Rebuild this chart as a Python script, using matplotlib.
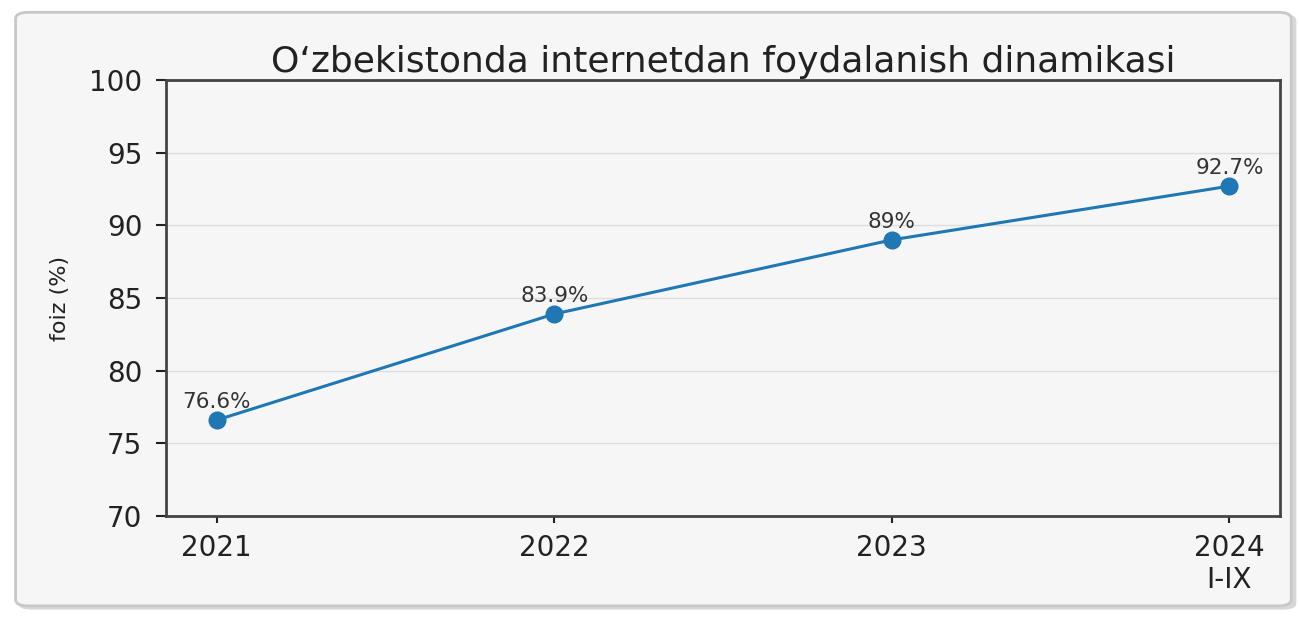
import matplotlib
matplotlib.use("Agg")
import matplotlib.pyplot as plt
from matplotlib.patches import FancyBboxPatch

plt.rcParams["font.family"] = ["DejaVu Sans"]

years = ["2021", "2022", "2023", "2024\nI-IX"]
values = [76.6, 83.9, 89.0, 92.7]
labels = ["76.6%", "83.9%", "89%", "92.7%"]
yticks = [70, 75, 80, 85, 90, 95, 100]

fig = plt.figure(figsize=(12.99, 6.17), dpi=100)
fig.patch.set_facecolor("white")

# outer frame with shadow
shadow = FancyBboxPatch((0.014, 0.012), 0.984, 0.965, boxstyle="round,pad=0,rounding_size=0.01",
                        transform=fig.transFigure, facecolor="#d8d8d8", edgecolor="none", zorder=-2)
frame = FancyBboxPatch((0.012, 0.018), 0.982, 0.962, boxstyle="round,pad=0,rounding_size=0.01",
                       transform=fig.transFigure, facecolor="#f6f6f6", edgecolor="#c8c8c8",
                       linewidth=2, zorder=-1)
fig.patches.extend([shadow, frame])

ax = fig.add_axes([0.1278, 0.1637, 0.8576, 0.7066])
ax.set_zorder(1)
ax.set_facecolor("#f6f6f6")
x = list(range(len(years)))
ax.plot(x, values, color="#1f77b4", linewidth=2.2, marker="o", markersize=12, zorder=3)
for xi, v, lab in zip(x, values, labels):
    ax.annotate(lab, (xi, v), xytext=(0, 6), textcoords="offset points",
                ha="center", va="bottom", fontsize=15.5, color="#333333")

ax.set_ylim(70, 100)
ax.set_yticks(yticks)
ax.set_xticks(x)
ax.set_xticklabels(years)
ax.tick_params(axis="both", labelsize=20, colors="#222222", width=1.5)
ax.tick_params(axis="y", length=7, pad=10)
ax.tick_params(axis="x", length=5, pad=8)
ax.grid(axis="y", color="#dddddd", linewidth=1)
ax.set_axisbelow(True)
for s in ax.spines.values():
    s.set_color("#444444")
    s.set_linewidth(2)
ax.set_ylabel("foiz (%)", fontsize=16, color="#222222", labelpad=14)
ax.set_title("O\u2018zbekistonda internetdan foydalanish dinamikasi", fontsize=26, color="#222222", pad=6)

fig.savefig("out.png", dpi=100, facecolor=fig.get_facecolor())
